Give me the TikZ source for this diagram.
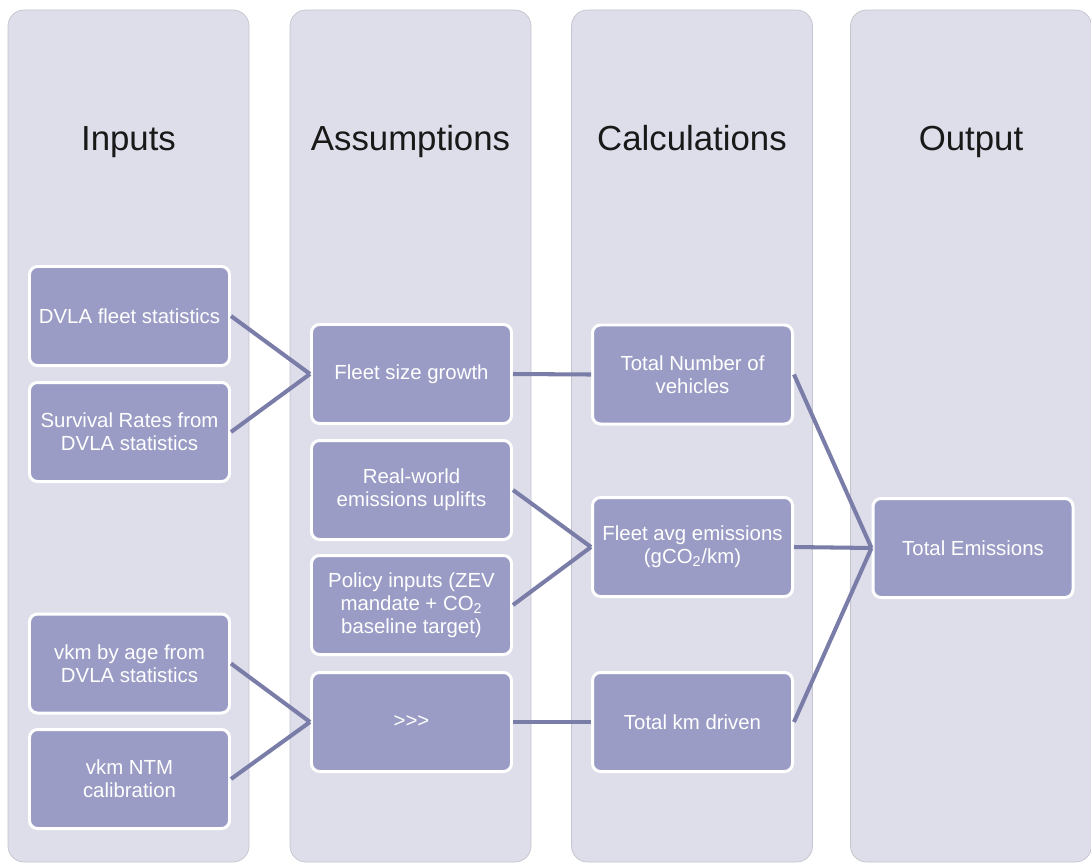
\documentclass[tikz,border=0pt]{standalone}
\usepackage{fontspec}
\setmainfont{Liberation Sans}
\usepackage{xcolor}
\usepackage{tikz}
\usetikzlibrary{positioning,backgrounds}
\definecolor{ColBack}{HTML}{DEDEEA}
\definecolor{ColEdge}{HTML}{C4C4CE}
\definecolor{BoxFill}{HTML}{9A9CC5}
\definecolor{LinkCol}{HTML}{7A7DA8}

\begin{document}
\begin{tikzpicture}[
  col/.style={draw=ColEdge,line width=0.4pt,fill=ColBack,rounded corners=0.32cm,
              minimum width=4.82cm,minimum height=17.04cm,inner sep=0pt},
  head/.style={font=\fontsize{19.8}{23}\selectfont,text=black!90,anchor=base},
  box/.style={draw=white,line width=1.7pt,fill=BoxFill,text=white,
              rounded corners=0.16cm,align=center,inner sep=2pt,
              minimum width=4cm,minimum height=1.98cm,
              font=\fontsize{11.6}{13}\selectfont},
  link/.style={line width=2.3pt,LinkCol},
]
\useasboundingbox (0,0) rectangle (21.82,-17.26);

% Four lanes, drawn behind everything else.
\begin{scope}[on background layer]
\node[col] (lane1) at ( 2.57,-8.72) {};
\node[col] (lane2) at ( 8.21,-8.72) {};
\node[col] (lane3) at (13.84,-8.72) {};
\node[col] (lane4) at (19.42,-8.72) {};
\end{scope}

% Lane titles share one baseline.
\node[head] (hin)   at ( 2.57,-3.0) {Inputs};
\node[head] (hass)  at ( 8.21,-3.0) {Assumptions};
\node[head] (hcalc) at (13.84,-3.0) {Calculations};
\node[head] (hout)  at (19.42,-3.0) {Output};

% Inputs
\node[box] (fleet)  at (2.59,-6.32)  {DVLA fleet statistics};
\node[box] (surv)   at (2.59,-8.64)  {Survival Rates from\\DVLA statistics};
\node[box] (vkmage) at (2.59,-13.27) {vkm by age from\\DVLA statistics};
\node[box] (vkmntm) at (2.59,-15.58) {vkm NTM\\calibration};

% Assumptions
\node[box] (growth) at (8.23,-7.48)  {Fleet size growth};
\node[box] (uplift) at (8.23,-9.80)  {Real-world\\emissions uplifts};
\node[box] (policy) at (8.23,-12.10) {Policy inputs (ZEV\\mandate + CO\textsubscript{2}\\baseline target)};
\node[box] (more)   at (8.23,-14.44) {>{}>{}>};

% Calculations
\node[box] (number) at (13.85,-7.49)  {Total Number of\\vehicles};
\node[box] (avgem)  at (13.85,-10.94) {Fleet avg emissions\\(gCO\textsubscript{2}/km)};
\node[box] (km)     at (13.85,-14.44) {Total km driven};

% Output
\node[box] (total)  at (19.46,-10.96) {Total Emissions};

% Links, always east side to west side.
\draw[link] (fleet.east)  -- (growth.west);
\draw[link] (surv.east)   -- (growth.west);
\draw[link] (vkmage.east) -- (more.west);
\draw[link] (vkmntm.east) -- (more.west);
\draw[link] (growth.east) -- (number.west);
\draw[link] (uplift.east) -- (avgem.west);
\draw[link] (policy.east) -- (avgem.west);
\draw[link] (more.east)   -- (km.west);
\draw[link] (number.east) -- (total.west);
\draw[link] (avgem.east)  -- (total.west);
\draw[link] (km.east)     -- (total.west);
\end{tikzpicture}
\end{document}
